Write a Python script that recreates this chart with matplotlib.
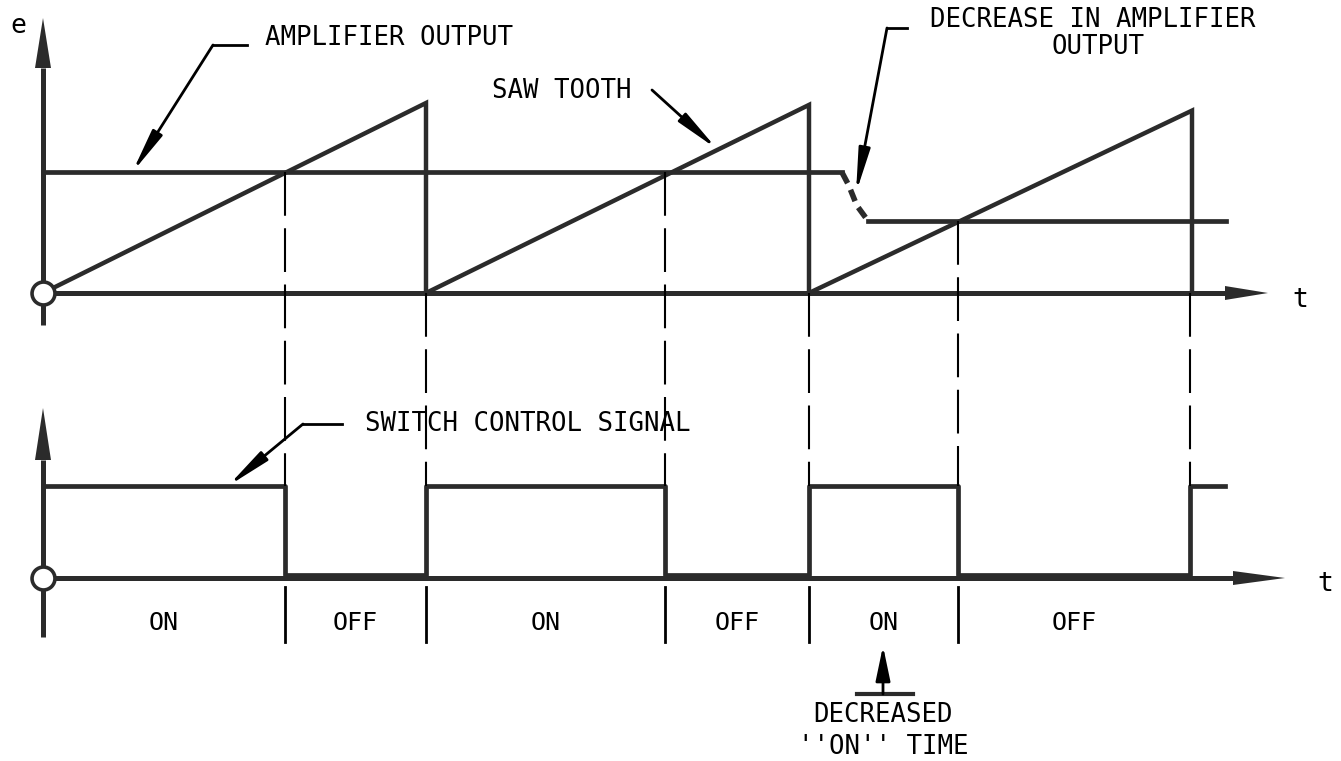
import matplotlib
matplotlib.use('Agg')
import matplotlib.pyplot as plt

# saw tooth: start / drop time (in periods) and peak height
tooth_start = [0.0, 1.0, 2.0]
tooth_end = [1.0, 2.0, 3.0]
tooth_peak = [1.0, 0.99, 0.96]

# amplifier output level, it drops during the third period
amp_high = 0.635
amp_low = 0.38
amp_high_end = 2.086
amp_drop_t = [2.086, 2.103, 2.125, 2.154]
amp_drop_e = [0.635, 0.57, 0.46, 0.38]
amp_low_end = 3.09

# switch control signal (steps-post)
switch_t = [0.0, 0.632, 1.0, 1.624, 2.0, 2.389, 2.995, 3.086]
switch_s = [1, 0, 1, 0, 1, 0, 1, 1]

# dashed projection lines: edge times and where they start on the top trace
edge_t = [0.632, 1.0, 1.624, 2.0, 2.389, 2.995]
edge_e = [amp_high, 0.0, amp_high, 0.0, amp_low, 0.0]

state_labels = ['ON', 'OFF', 'ON', 'OFF', 'ON', 'OFF']
state_bounds = [0.0, 0.632, 1.0, 1.624, 2.0, 2.389, 2.995]

# drawing scale (figure in pixel units)
X0, T_PX = 43, 383
TOP0, E_PX = 293, 190
BOT0, S_PX = 578, 92
LOW = 0.035  # off level sits just above the axis


def tx(t):
    return X0 + T_PX * t


def ey(e):
    return TOP0 - E_PX * e


def sy(s):
    return BOT0 - S_PX * (s if s > 0 else LOW)


INK = '#2b2b2b'
FONT = 'DejaVu Sans Mono'

fig = plt.figure(figsize=(13.41, 7.61), dpi=100)
ax = fig.add_axes([0, 0, 1, 1])
ax.set_xlim(0, 1341)
ax.set_ylim(761, 0)
ax.axis('off')

# axes of both panels
for base, top, tip, bottom, right, head_right in [(TOP0, 68, 18, 325, 1225, 1268),
                                                  (BOT0, 460, 408, 637, 1233, 1285)]:
    ax.plot([X0, X0], [bottom, top], color=INK, lw=3.6, solid_capstyle='butt')
    ax.fill([X0 - 8, X0 + 8, X0], [top, top, tip], color=INK, lw=0)
    ax.plot([X0, right], [base, base], color=INK, lw=3.6, solid_capstyle='butt')
    ax.fill([right, right, head_right], [base - 7, base + 7, base], color=INK, lw=0)

# saw tooth
for s, e, p in zip(tooth_start, tooth_end, tooth_peak):
    ax.plot([tx(s), tx(e), tx(e)], [ey(0), ey(p), ey(0)], color=INK, lw=3.2,
            solid_joinstyle='miter')

# amplifier output
ax.plot([tx(0), tx(amp_high_end)], [ey(amp_high), ey(amp_high)], color=INK, lw=3.4)
ax.plot([tx(t) for t in amp_drop_t], [ey(e) for e in amp_drop_e], color=INK, lw=4,
        linestyle=(0, (2.2, 1.3)))
ax.plot([tx(amp_drop_t[-1]), tx(amp_low_end)], [ey(amp_low), ey(amp_low)], color=INK, lw=3.4)

# switch control signal
ax.plot([tx(t) for t in switch_t], [sy(s) for s in switch_s], color=INK, lw=3.4,
        drawstyle='steps-post', solid_joinstyle='round')

# dashed projection lines between the two traces
for t, e in zip(edge_t, edge_e):
    ax.plot([tx(t), tx(t)], [ey(e), sy(1)], color='black', lw=1.5,
            linestyle=(0, (21, 6)))

# separators and ON / OFF labels
for t in state_bounds[1:6]:
    ax.plot([tx(t), tx(t)], [587, 642], color='black', lw=2)
for lab, a, b in zip(state_labels, state_bounds[:-1], state_bounds[1:]):
    ax.text(tx((a + b) / 2), 623, lab, ha='center', va='center', fontsize=18,
            family=FONT)

# origin circles
for base in (TOP0, BOT0):
    ax.plot([X0], [base], marker='o', ms=16.5, mfc='white', mec=INK, mew=2.6, zorder=5)

# axis letters
ax.text(18, 26, 'e', ha='center', va='center', fontsize=19, family=FONT)
ax.text(1300, 300, 't', ha='center', va='center', fontsize=19, family=FONT)
ax.text(1325, 584, 't', ha='center', va='center', fontsize=19, family=FONT)

arrow = dict(arrowstyle='-|>,head_length=1.3,head_width=0.17', color='black', lw=2,
             shrinkA=0, shrinkB=0, mutation_scale=20)


def leader(text_xy, text, corner, elbow_end, tip, ha='left'):
    ax.plot([corner[0], elbow_end[0]], [corner[1], elbow_end[1]], color='black', lw=2)
    ax.annotate('', xy=tip, xytext=corner, arrowprops=arrow)
    ax.text(text_xy[0], text_xy[1], text, ha=ha, va='center', fontsize=18.5, family=FONT)


leader((265, 38), 'AMPLIFIER OUTPUT', (213, 45), (247, 45), (tx(0.233), ey(amp_high)))
leader((492, 91), 'SAW TOOTH', (652, 90), (652, 90), (717, 149))
leader((365, 424), 'SWITCH CONTROL SIGNAL', (303, 424), (342, 424), (228, sy(1)))
leader((1093, 20), 'DECREASE IN AMPLIFIER', (887, 28), (907, 28), (856, 193), ha='center')
ax.text(1098, 47, 'OUTPUT', ha='center', va='center', fontsize=18.5, family=FONT)

# decreased "on" time marker
ax.plot([857, 913], [694, 694], color=INK, lw=3)
ax.annotate('', xy=(883, 646), xytext=(883, 694),
            arrowprops=dict(arrowstyle='-|>,head_length=1.05,head_width=0.22',
                            color='black', lw=2, shrinkA=0, shrinkB=0,
                            mutation_scale=20))
ax.text(883, 715, 'DECREASED', ha='center', va='center', fontsize=18.5, family=FONT)
ax.text(883, 747, "''ON'' TIME", ha='center', va='center', fontsize=18.5, family=FONT)

fig.savefig('out.png', dpi=100)
